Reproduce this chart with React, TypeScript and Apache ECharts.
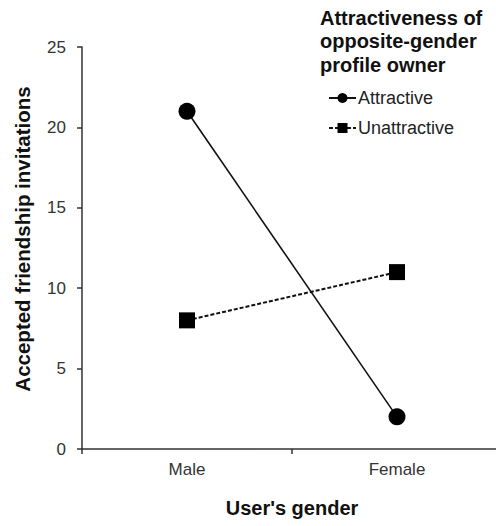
import React, { useEffect, useRef } from "react";
import * as echarts from "echarts";

const categories = ["Male", "Female"];
const attractive = [21, 2];
const unattractive = [8, 11];
const yTicks = { min: 0, max: 25, interval: 5 };
const legendTitle = "Attractiveness of\nopposite-gender\nprofile owner";
const xName = "User's gender";
const yName = "Accepted friendship invitations";

const FONT = "'Liberation Sans', Arial, sans-serif";

export default function App() {
  const ref = useRef<HTMLDivElement>(null);
  useEffect(() => {
    if (!ref.current) return;
    const chart = echarts.init(ref.current, undefined, { renderer: "svg" });
    chart.setOption({
      animation: false,
      backgroundColor: "#ffffff",
      textStyle: { fontFamily: FONT },
      title: {
        text: legendTitle,
        left: 320,
        top: 6,
        padding: 0,
        textStyle: {
          fontFamily: FONT,
          fontWeight: "bold",
          fontSize: 20,
          lineHeight: 23.5,
          color: "#111",
        },
      },
      legend: {
        orient: "vertical",
        left: 328,
        top: 89,
        padding: 0,
        itemWidth: 27,
        itemHeight: 12.5,
        itemGap: 12,
        textStyle: { fontFamily: FONT, fontSize: 18, color: "#222", padding: [0, 0, 0, -3] },
        data: ["Attractive", "Unattractive"],
      },
      grid: { left: 82, top: 47, bottom: 77, right: 0, containLabel: false },
      xAxis: {
        type: "category",
        data: categories,
        name: xName,
        nameLocation: "middle",
        nameGap: 49,
        nameTextStyle: { fontFamily: FONT, fontWeight: "bold", fontSize: 20, color: "#111" },
        axisLine: { lineStyle: { color: "#333", width: 1.5 } },
        axisTick: { show: true, length: 5, lineStyle: { color: "#333", width: 1.5 } },
        axisLabel: { fontFamily: FONT, fontSize: 17, color: "#333", margin: 12 },
        splitLine: { show: false },
      },
      yAxis: {
        type: "value",
        min: yTicks.min,
        max: yTicks.max,
        interval: yTicks.interval,
        name: yName,
        nameLocation: "middle",
        nameGap: 49,
        nameTextStyle: {
          fontFamily: FONT,
          fontWeight: "bold",
          fontSize: 20.5,
          color: "#111",
          padding: [0, 0, 0, 18],
        },
        axisLine: { show: true, lineStyle: { color: "#333", width: 1.5 } },
        axisTick: { show: true, length: 5, lineStyle: { color: "#333", width: 1.5 } },
        axisLabel: { fontFamily: FONT, fontSize: 17, color: "#333", margin: 16 },
        splitLine: { show: false },
      },
      series: [
        {
          name: "Attractive",
          type: "line",
          data: attractive,
          symbol: "circle",
          symbolSize: 17,
          itemStyle: { color: "#000" },
          lineStyle: { color: "#111", width: 1.6, type: "solid" },
        },
        {
          name: "Unattractive",
          type: "line",
          data: unattractive,
          symbol: "rect",
          symbolSize: 16,
          itemStyle: { color: "#000" },
          lineStyle: { color: "#111", width: 2, type: [4, 2] },
        },
      ],
    });
    return () => chart.dispose();
  }, []);
  return (
    <div style={{ width: 496, height: 526, position: "absolute", left: 0, top: 0, overflow: "hidden", background: "#fff" }}>
      <div ref={ref} style={{ width: 502, height: 526 }} />
    </div>
  );
}
